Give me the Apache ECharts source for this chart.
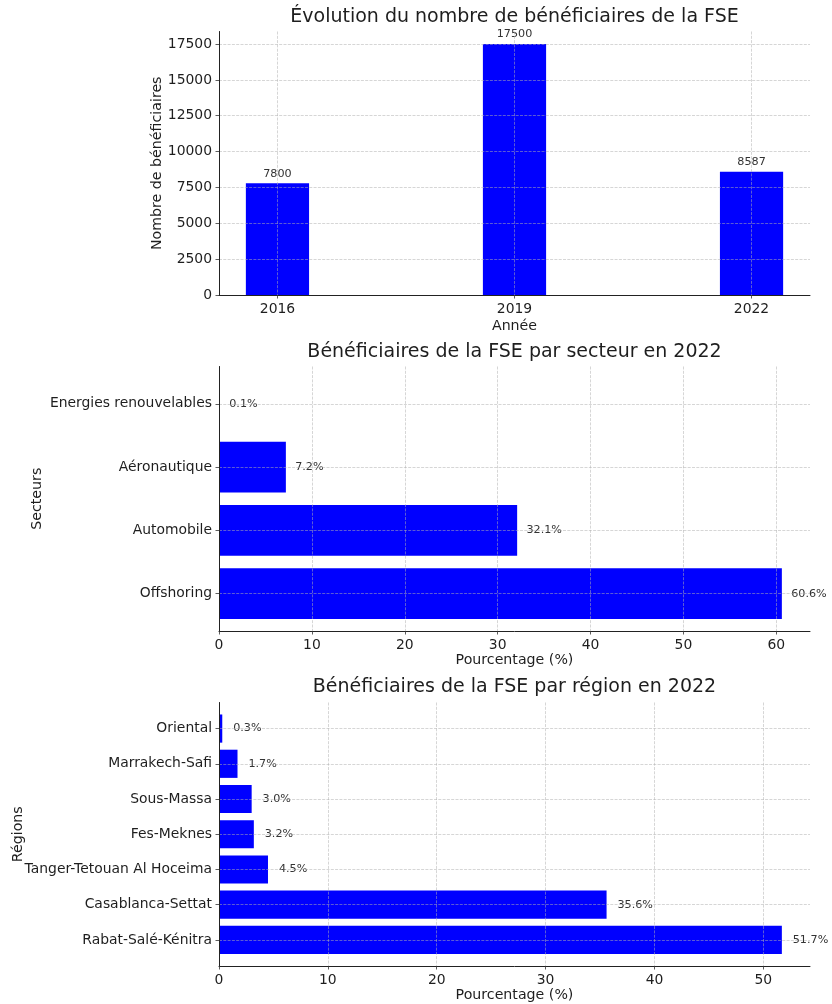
<!DOCTYPE html>
<html>
<head>
<meta charset="utf-8">
<script src="https://cdn.jsdelivr.net/npm/echarts@6/dist/echarts.min.js"></script>
<style>
  html, body { margin: 0; padding: 0; background: #ffffff; }
  #chart { width: 832px; height: 1004px; }
</style>
</head>
<body>
<div id="chart"></div>
<script>
// Nombre de bénéficiaires par année
const years = [2016, 2019, 2022];
const beneficiaires = [7800, 17500, 8587];
const beneficiaireTicks = [0, 2500, 5000, 7500, 10000, 12500, 15000, 17500];

// Répartition par secteur en 2022 (%)
const secteurs = ['Offshoring', 'Automobile', 'Aéronautique', 'Energies renouvelables'];
const secteurPct = [60.6, 32.1, 7.2, 0.1];
const secteurTicks = [0, 10, 20, 30, 40, 50, 60];

// Répartition par région en 2022 (%)
const regions = ['Rabat-Salé-Kénitra', 'Casablanca-Settat', 'Tanger-Tetouan Al Hoceima',
                 'Fes-Meknes', 'Sous-Massa', 'Marrakech-Safi', 'Oriental'];
const regionPct = [51.7, 35.6, 4.5, 3.2, 3.0, 1.7, 0.3];
const regionTicks = [0, 10, 20, 30, 40, 50];

const FONT = '"DejaVu Sans", sans-serif';
const TEXT = '#1e1e1e';
const VALUE_TEXT = '#333333';
const BAR = '#0000ff';
const BAR_FRAC = 0.8;      // bar thickness in axis units
const MARGIN = 0.05;       // auto-margin around the data range

const gridLine = { show: true, lineStyle: { color: 'rgba(176,176,176,0.65)', width: 0.8, type: [3, 1.3] } };
const axisLine = { show: true, onZero: false, lineStyle: { color: '#222222', width: 1 } };
const tick = (vals) => ({ show: true, customValues: vals, length: 3.5, inside: false, lineStyle: { color: '#333333', width: 0.8 } });
const tickLabel = (vals, formatter) => ({
  customValues: vals, color: TEXT, fontFamily: FONT, fontSize: 13.9, margin: 7,
  formatter: formatter || ((v) => String(v))
});
const axisName = { color: TEXT, fontFamily: FONT, fontSize: 14.2 };

// Vertical bars with value labels above
function verticalBar(params, api) {
  const x = api.value(0), v = api.value(1);
  const base = api.coord([x, 0]);
  const top = api.coord([x, v]);
  const w = api.size([BAR_FRAC, 0])[0];
  return {
    type: 'group',
    children: [
      { type: 'rect', shape: { x: base[0] - w / 2, y: top[1], width: w, height: base[1] - top[1] }, style: { fill: BAR } },
      { type: 'text', x: top[0], y: top[1] - 4, z2: 10,
        style: { text: String(v), align: 'center', verticalAlign: 'bottom', fontFamily: FONT, fontSize: 11.2, fill: VALUE_TEXT } }
    ]
  };
}

// Horizontal bars with percentage labels to the right
function horizontalBar(params, api) {
  const v = api.value(0), idx = api.value(1);
  const start = api.coord([0, idx]);
  const end = api.coord([v, idx]);
  const labelAt = api.coord([v + 1, idx]);
  const h = Math.abs(api.size([0, BAR_FRAC])[1]);
  return {
    type: 'group',
    children: [
      { type: 'rect', shape: { x: start[0], y: start[1] - h / 2, width: end[0] - start[0], height: h }, style: { fill: BAR } },
      { type: 'text', x: labelAt[0], y: labelAt[1], z2: 10,
        style: { text: v.toFixed(1) + '%', align: 'left', verticalAlign: 'middle', fontFamily: FONT, fontSize: 11.2, fill: VALUE_TEXT } }
    ]
  };
}

const yearSpan = (years[years.length - 1] - years[0]) + BAR_FRAC;
const yearMin = years[0] - BAR_FRAC / 2 - MARGIN * yearSpan;
const yearMax = years[years.length - 1] + BAR_FRAC / 2 + MARGIN * yearSpan;

const catRange = (n) => {
  const span = (n - 1) + BAR_FRAC;
  return [-BAR_FRAC / 2 - MARGIN * span, n - 1 + BAR_FRAC / 2 + MARGIN * span];
};
const secRange = catRange(secteurs.length);
const regRange = catRange(regions.length);

const titleStyle = { color: TEXT, fontFamily: FONT, fontSize: 19, fontWeight: 'normal' };

const option = {
  backgroundColor: '#ffffff',
  animation: false,
  title: [
    { text: 'Évolution du nombre de bénéficiaires de la FSE', left: 514.5, textAlign: 'center', top: 8, textStyle: titleStyle, padding: 0 },
    { text: 'Bénéficiaires de la FSE par secteur en 2022', left: 514.5, textAlign: 'center', top: 343, textStyle: titleStyle, padding: 0 },
    { text: 'Bénéficiaires de la FSE par région en 2022', left: 514.5, textAlign: 'center', top: 678, textStyle: titleStyle, padding: 0 }
  ],
  grid: [
    { left: 219, right: 22, top: 31.5, height: 263.5, containLabel: false, outerBoundsMode: 'none' },
    { left: 219, right: 22, top: 366.5, height: 264.5, containLabel: false, outerBoundsMode: 'none' },
    { left: 219, right: 22, top: 702.5, height: 263.5, containLabel: false, outerBoundsMode: 'none' }
  ],
  xAxis: [
    { gridIndex: 0, type: 'value', min: yearMin, max: yearMax, z: 5,
      name: 'Année', nameLocation: 'middle', nameGap: 24, nameMoveOverlap: false, nameTextStyle: axisName,
      axisLine: axisLine, axisTick: tick(years), axisLabel: tickLabel(years), splitLine: gridLine },
    { gridIndex: 1, type: 'value', min: 0, max: Math.max(...secteurPct) * (1 + MARGIN), z: 5,
      name: 'Pourcentage (%)', nameLocation: 'middle', nameGap: 22, nameMoveOverlap: false, nameTextStyle: axisName,
      axisLine: axisLine, axisTick: tick(secteurTicks), axisLabel: tickLabel(secteurTicks), splitLine: gridLine },
    { gridIndex: 2, type: 'value', min: 0, max: Math.max(...regionPct) * (1 + MARGIN), z: 5,
      name: 'Pourcentage (%)', nameLocation: 'middle', nameGap: 22, nameMoveOverlap: false, nameTextStyle: axisName,
      axisLine: axisLine, axisTick: tick(regionTicks), axisLabel: tickLabel(regionTicks), splitLine: gridLine }
  ],
  yAxis: [
    { gridIndex: 0, type: 'value', min: 0, max: Math.max(...beneficiaires) * (1 + MARGIN), z: 5,
      name: 'Nombre de bénéficiaires', nameLocation: 'middle', nameGap: 55, nameMoveOverlap: false, nameTextStyle: axisName,
      axisLine: axisLine, axisTick: tick(beneficiaireTicks), axisLabel: tickLabel(beneficiaireTicks), splitLine: gridLine },
    { gridIndex: 1, type: 'value', min: secRange[0], max: secRange[1], z: 5,
      name: 'Secteurs', nameLocation: 'middle', nameGap: 175, nameMoveOverlap: false, nameTextStyle: axisName,
      axisLine: axisLine, axisTick: tick(secteurs.map((_, i) => i)),
      axisLabel: tickLabel(secteurs.map((_, i) => i), (v) => secteurs[Math.round(v)]),
      splitLine: gridLine },
    { gridIndex: 2, type: 'value', min: regRange[0], max: regRange[1], z: 5,
      name: 'Régions', nameLocation: 'middle', nameGap: 194, nameMoveOverlap: false, nameTextStyle: axisName,
      axisLine: axisLine, axisTick: tick(regions.map((_, i) => i)),
      axisLabel: tickLabel(regions.map((_, i) => i), (v) => regions[Math.round(v)]),
      splitLine: gridLine }
  ],
  series: [
    { type: 'custom', xAxisIndex: 0, yAxisIndex: 0, z: 2, renderItem: verticalBar,
      data: years.map((y, i) => [y, beneficiaires[i]]) },
    { type: 'custom', xAxisIndex: 1, yAxisIndex: 1, z: 2, renderItem: horizontalBar,
      data: secteurPct.map((v, i) => [v, i]) },
    { type: 'custom', xAxisIndex: 2, yAxisIndex: 2, z: 2, renderItem: horizontalBar,
      data: regionPct.map((v, i) => [v, i]) }
  ]
};

const chart = echarts.init(document.getElementById('chart'), null, { renderer: 'canvas' });
chart.setOption(option);
</script>
</body>
</html>
